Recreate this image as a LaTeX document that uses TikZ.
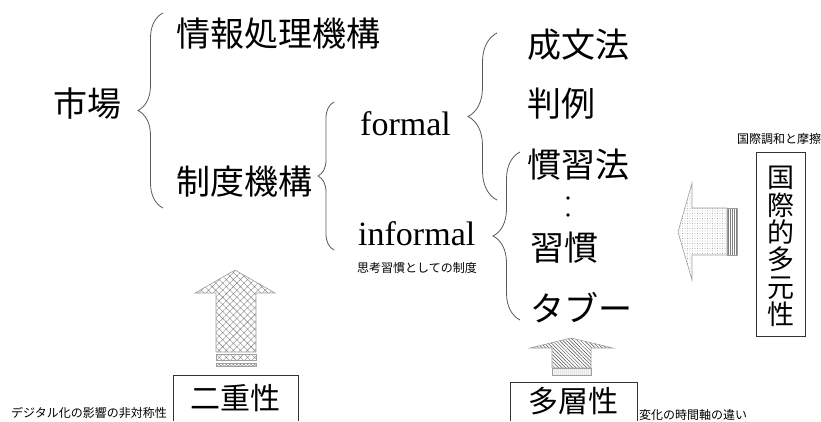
\documentclass[tikz,border=0pt]{standalone}
\usepackage{fontspec}
\setmainfont{Liberation Serif}
\newfontfamily\jp{Noto Sans CJK JP}
\usetikzlibrary{decorations.pathreplacing,patterns.meta}
\begin{document}
\begin{tikzpicture}[x=1pt,y=-1pt,
  big/.style={font=\jp\fontsize{34}{34}\selectfont, inner sep=0pt},
  mid/.style={font=\jp\fontsize{30}{30}\selectfont, inner sep=0pt},
  small/.style={font=\jp\fontsize{12}{12}\selectfont, inner sep=0pt},
  latin/.style={font=\fontsize{34}{34}\selectfont, inner sep=0pt},
  bracestyle/.style={draw=black!65, line width=0.8pt, decorate},
  blockarrow/.style={draw=gray!75, line width=0.6pt},
  frame/.style={draw=black!80, line width=0.9pt}]
\useasboundingbox (0,0) rectangle (821,421);

% texts
\node[big] (market) at (87,104) {市場};
\node[big, anchor=west] (info) at (176,34) {情報処理機構};
\node[big, anchor=west] (inst) at (176,182) {制度機構};
\node[latin, anchor=base west] (formal) at (360,135) {formal};
\node[latin, anchor=base west] (informal) at (358,245) {informal};
\node[small, anchor=west] (habit) at (357,268) {思考習慣としての制度};
\node[big, anchor=west] (law) at (527,45) {成文法};
\node[big, anchor=west] (case) at (527,104) {判例};
\node[big, anchor=west] (custlaw) at (527,165) {慣習法};
\node[big, anchor=west] (custom) at (530,248) {習慣};
\node[big, anchor=west] (taboo) at (530,308) {タブー};
\fill[black] (568,198) circle (1.9) (568,215) circle (1.9);

% braces
\draw[bracestyle, decoration={brace, amplitude=25pt}] (163,208) -- (163,13);
\draw[bracestyle, decoration={brace, amplitude=16pt}] (334,250) -- (334,102);
\draw[bracestyle, decoration={brace, amplitude=29pt}] (497,200) -- (497,33);
\draw[bracestyle, decoration={brace, amplitude=27pt}] (520,320) -- (520,152);

% arrow 1 (up, cross-hatched)
\draw[blockarrow, pattern={Hatch[angle=45,distance=5pt,line width=0.4pt]}, pattern color=gray]
  (235,270) -- (275,293) -- (256,293) -- (256,352) -- (216,352) -- (216,293) -- (195,293) -- cycle;
\draw[blockarrow, pattern={Hatch[angle=45,distance=5pt,line width=0.4pt]}, pattern color=gray]
  (216,354) rectangle (256,360);
\draw[blockarrow, pattern={Hatch[angle=45,distance=2.5pt,line width=0.4pt]}, pattern color=gray]
  (216,363) rectangle (256,366);

% arrow 2 (up, hatched)
\draw[blockarrow, pattern={Lines[angle=-45,distance=2.5pt,line width=0.5pt]}, pattern color=black!70]
  (571,338) -- (613,348) -- (591,348) -- (591,368) -- (552,368) -- (552,348) -- (530,348) -- cycle;
\draw[blockarrow, pattern={Dots[distance=2pt,radius=0.5pt]}, pattern color=gray]
  (552,368) rectangle (591,375);

% arrow 3 (left, dotted)
\draw[blockarrow, pattern={Dots[distance=2.5pt,radius=0.4pt]}, pattern color=gray]
  (678,232) -- (692,183) -- (692,208) -- (727,208) -- (727,255) -- (692,255) -- (692,280) -- cycle;
\draw[blockarrow, pattern={Lines[angle=90,distance=2pt,line width=0.4pt]}, pattern color=gray]
  (727,208) rectangle (737,255);

% bottom boxes
\node[mid] (dual) at (235,398) {二重性};
\draw[frame] (173,421) -- (173,375) -- (298,375) -- (298,421);
\node[small, anchor=west] (digital) at (11,413) {デジタル化の影響の非対称性};

\node[mid] (multi) at (573,401) {多層性};
\draw[frame] (510,421) -- (510,382) -- (637,382) -- (637,421);
\node[small, anchor=west] (time) at (639,415) {変化の時間軸の違い};

% right box
\draw[frame] (756,152) rectangle (805,336);
\node[font=\jp\fontsize{27}{27.4}\selectfont, inner sep=0pt, align=center] (plural) at (780.5,246.5) {国\\際\\的\\多\\元\\性};
\node[small, anchor=west] (harmony) at (737,139) {国際調和と摩擦};
\end{tikzpicture}
\end{document}
